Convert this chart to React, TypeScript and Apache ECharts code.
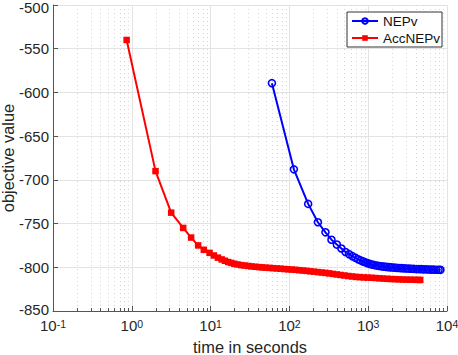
import React, { useEffect, useRef } from "react";
import * as echarts from "echarts";

const nepvTime = [60, 114, 173, 230, 287, 342, 400, 457, 515, 572, 630, 687, 745, 800, 860, 920, 980, 1050, 1120, 1200, 1290, 1380, 1480, 1590, 1710, 1840, 1980, 2130, 2290, 2460, 2650, 2850, 3060, 3290, 3540, 3800, 4090, 4400, 4730, 5080, 5460, 5870, 6310, 6780, 7290, 7830, 8260];
const nepvValue = [-589.4, -688, -727.5, -748.5, -760, -768.5, -774, -778.5, -782.5, -785, -787.3, -789.2, -790.8, -792.1, -793.3, -794.4, -795.3, -796.2, -796.9, -797.5, -798, -798.5, -798.9, -799.3, -799.6, -799.9, -800.2, -800.4, -800.6, -800.8, -801, -801.2, -801.4, -801.5, -801.7, -801.8, -802, -802.1, -802.2, -802.3, -802.4, -802.5, -802.6, -802.7, -802.8, -802.8, -802.9];

const accTime = [0.86, 2.0, 3.16, 4.49, 5.66, 6.95, 8.2, 9.7, 11, 12.4, 13.8, 15.2, 16.7, 18.3, 20, 22, 24.5, 27, 30, 33, 37, 41, 45, 50, 56, 62, 69, 77, 86, 96, 107, 119, 133, 148, 165, 184, 205, 230, 257, 286, 320, 357, 400, 446, 500, 560, 625, 700, 785, 880, 985, 1100, 1240, 1390, 1550, 1740, 1950, 2180, 2450, 2740, 3070, 3440, 3850, 4300, 4570];
const accValue = [-540, -690, -737.5, -755, -766, -775, -780, -783.5, -786.5, -789, -791, -792.5, -794, -795, -796, -796.8, -797.5, -798, -798.5, -799, -799.4, -799.8, -800.1, -800.4, -800.7, -801, -801.3, -801.6, -802, -802.3, -802.6, -802.9, -803.3, -803.7, -804.1, -804.6, -805, -805.5, -806, -806.4, -807, -807.6, -808.2, -808.8, -809.4, -810, -810.5, -811, -811.3, -811.6, -811.8, -812, -812.3, -812.6, -812.9, -813.2, -813.4, -813.6, -813.8, -814, -814.1, -814.2, -814.3, -814.4, -814.5];

const xMin = 0.1;
const xMax = 10000;
const yMin = -850;
const yMax = -500;
const yInterval = 50;
const minorTicks = [0.2, 0.3, 0.4, 0.5, 0.6, 0.7, 0.8, 0.9, 2, 3, 4, 5, 6, 7, 8, 9, 20, 30, 40, 50, 60, 70, 80, 90, 200, 300, 400, 500, 600, 700, 800, 900, 2000, 3000, 4000, 5000, 6000, 7000, 8000, 9000];

const FONT = "'Liberation Sans', Arial, Helvetica, sans-serif";

export default function App() {
  const ref = useRef<HTMLDivElement>(null);
  useEffect(() => {
    const chart = echarts.init(ref.current!, null, { renderer: "svg" });
    chart.setOption({
      animation: false,
      backgroundColor: "#fff",
      textStyle: { fontFamily: FONT },
      grid: { left: 53, right: 11, top: 5, bottom: 44, outerBoundsMode: "none", containLabel: false },
      legend: {
        data: ["NEPv", "AccNEPv"],
        orient: "vertical",
        left: 347,
        top: 12,
        backgroundColor: "#fff",
        borderColor: "#333",
        borderWidth: 1,
        borderRadius: 0,
        padding: [2, 2, 2, 4],
        itemGap: 3,
        itemWidth: 26,
        itemHeight: 7,
        textStyle: { fontSize: 13.5, color: "#111", fontFamily: FONT, lineHeight: 14 },
      },
      xAxis: {
        type: "log",
        logBase: 10,
        min: xMin,
        max: xMax,
        name: "time in seconds",
        nameLocation: "middle",
        nameGap: 28,
        nameMoveOverlap: false,
        nameTextStyle: { fontSize: 16.4, lineHeight: 15, color: "#262626", fontFamily: FONT },
        axisLine: { show: true, lineStyle: { color: "#555", width: 1 } },
        axisTick: { show: true, inside: true, length: 5, lineStyle: { color: "#555" } },
        axisLabel: {
          margin: 7,
          color: "#262626",
          formatter: (v: number) => `{b|10}{s|${Math.round(Math.log10(v))}}`,
          rich: {
            b: { fontSize: 15, lineHeight: 15, verticalAlign: "bottom", fontFamily: FONT, color: "#262626" },
            s: { fontSize: 10.5, lineHeight: 11, verticalAlign: "top", padding: [0, 0, 7, 0], fontFamily: FONT, color: "#262626" },
          },
        },
        splitLine: { show: true, lineStyle: { color: "#e3e3e3", width: 1 } },
      },
      yAxis: {
        type: "value",
        min: yMin,
        max: yMax,
        interval: yInterval,
        name: "objective value",
        nameLocation: "middle",
        nameGap: 38,
        nameMoveOverlap: false,
        nameTextStyle: { fontSize: 16.4, lineHeight: 15, color: "#262626", fontFamily: FONT },
        axisLine: { show: true, lineStyle: { color: "#555", width: 1 } },
        axisTick: { show: true, inside: true, length: 5, lineStyle: { color: "#555" } },
        axisLabel: {
          margin: 4,
          color: "#262626",
          formatter: (v: number) => (v === yMax ? `{t|${v}}` : v === yMin ? `{m|${v}}` : `{n|${v}}`),
          rich: {
            n: { fontSize: 15, lineHeight: 11, fontFamily: FONT, color: "#262626" },
            t: { fontSize: 15, lineHeight: 11, padding: [4, 0, 0, 0], fontFamily: FONT, color: "#262626" },
            m: { fontSize: 15, lineHeight: 11, padding: [0, 0, 3, 0], fontFamily: FONT, color: "#262626" },
          },
        },
        splitLine: { show: true, lineStyle: { color: "#e3e3e3", width: 1 } },
      },
      series: [
        {
          type: "custom",
          name: "minor",
          silent: true,
          z: 1,
          data: minorTicks.map((v) => [v, yMin]),
          encode: { x: 0, y: 1 },
          renderItem: (params: any, api: any) => {
            const v = api.value(0);
            const bot = api.coord([v, yMin]);
            const top = api.coord([v, yMax]);
            const x = Math.round(bot[0]) + 0.5;
            return {
              type: "group",
              children: [
                {
                  type: "line",
                  shape: { x1: x, y1: top[1], x2: x, y2: bot[1] },
                  style: { stroke: "#d6d6d6", lineWidth: 1, lineDash: [1, 3] },
                },
                {
                  type: "line",
                  shape: { x1: x, y1: bot[1], x2: x, y2: bot[1] - 3 },
                  style: { stroke: "#555", lineWidth: 1 },
                },
              ],
            };
          },
        },
        {
          type: "line",
          name: "NEPv",
          z: 3,
          data: nepvTime.map((t, i) => [t, nepvValue[i]]),
          symbol: "circle",
          symbolSize: 7,
          lineStyle: { color: "#0000ff", width: 2 },
          itemStyle: { color: "transparent", borderColor: "#0000ff", borderWidth: 1.6 },
        },
        {
          type: "line",
          name: "AccNEPv",
          z: 4,
          data: accTime.map((t, i) => [t, accValue[i]]),
          symbol: "rect",
          symbolSize: 6.5,
          lineStyle: { color: "#ff0000", width: 2 },
          itemStyle: { color: "#ff0000", borderColor: "#ff0000", borderWidth: 0 },
        },
      ],
    });
    return () => chart.dispose();
  }, []);
  return <div ref={ref} style={{ width: 458, height: 355, position: "absolute", left: 0, top: 0 }} />;
}
